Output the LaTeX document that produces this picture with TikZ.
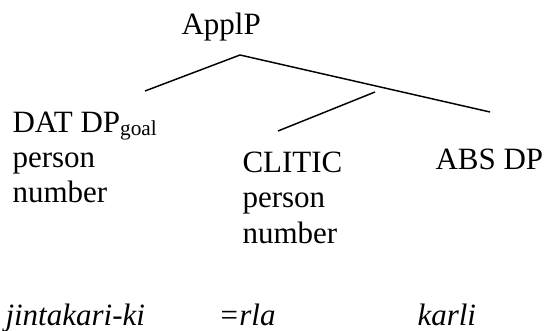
\documentclass[tikz,border=0pt]{standalone}
\usepackage{fontspec}
\setmainfont{Liberation Serif}
\tikzset{every picture/.style={line width=0.75pt}}
\tikzset{lbl/.style={anchor=base west, inner sep=0pt, font=\fontsize{23.25}{28}\selectfont},
	branch/.style={line width=1.1pt}}
\newcommand{\goalsub}{\raisebox{-1.9pt}{\fontsize{16}{17}\selectfont goal}}

\begin{document}
\begin{tikzpicture}[x=0.75pt,y=0.75pt,yscale=-1,xscale=1]
	\useasboundingbox (0,0) rectangle (545,331);

	% Branch Points
	\coordinate (apex) at (240,55);
	\coordinate (leftend) at (145,91);
	\coordinate (rightend) at (490,112);
	\coordinate (midtop) at (375,92);
	\coordinate (midend) at (278,131);

	%Straight Lines
	\draw [branch]  (apex) -- (leftend) ;
	%Straight Lines
	\draw [branch]  (apex) -- (rightend) ;
	%Straight Lines
	\draw [branch]  (midtop) -- (midend) ;

	% Text Node
	\draw (181,35) node [lbl] (applp) {ApplP};
	% Text Node
	\draw (12,133) node [lbl] (dat) {DAT DP\goalsub};
	% Text Node
	\draw (12,168) node [lbl] (datperson) {person};
	% Text Node
	\draw (12,203) node [lbl] (datnumber) {number};
	% Text Node
	\draw (242,173) node [lbl] (clitic) {CLITIC};
	% Text Node
	\draw (242,208) node [lbl] (cliticperson) {person};
	% Text Node
	\draw (242,243) node [lbl] (cliticnumber) {number};
	% Text Node
	\draw (435,170) node [lbl] (abs) {ABS DP};
	% Text Node
	\draw (5,325) node [lbl] (jintakari) {\itshape jintakari-ki};
	% Text Node
	\draw (218,325) node [lbl] (rla) {\itshape =rla};
	% Text Node
	\draw (417,325) node [lbl] (karli) {\itshape karli};

\end{tikzpicture}
\end{document}
